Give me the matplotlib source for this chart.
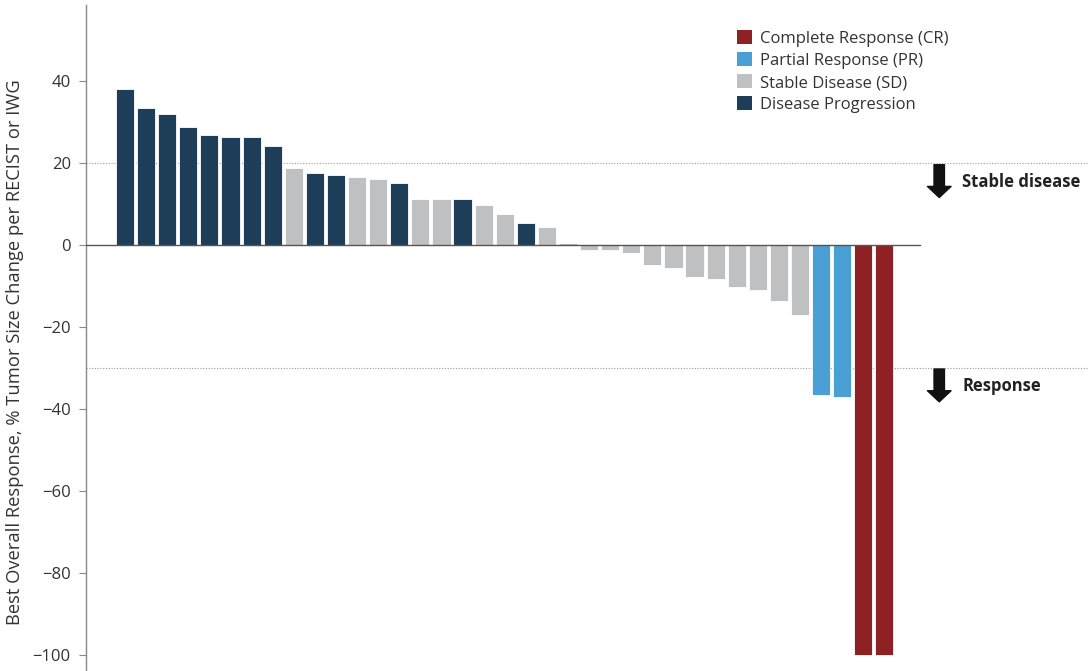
import matplotlib.pyplot as plt
from matplotlib.patches import Patch

plt.rcParams['font.family'] = ['Open Sans', 'DejaVu Sans']

# Best overall response per patient (% change), sorted as in the waterfall
values = [38, 33.2, 31.8, 28.8, 26.7, 26.2, 26.2, 24.0,
          18.6, 17.4, 17.1, 16.6, 15.9, 15.0, 11.2, 11.2, 11.2, 9.7, 7.6, 5.4, 4.3,
          0.5, -1.2, -1.4, -1.9, -4.9, -5.7, -7.9, -8.4, -10.4, -11.1, -13.6, -17.1,
          -36.7, -37.2, -100, -100]
response = ['PD', 'PD', 'PD', 'PD', 'PD', 'PD', 'PD', 'PD',
            'SD', 'PD', 'PD', 'SD', 'SD', 'PD', 'SD', 'SD', 'PD', 'SD', 'SD', 'PD', 'SD',
            'SD', 'SD', 'SD', 'SD', 'SD', 'SD', 'SD', 'SD', 'SD', 'SD', 'SD', 'SD',
            'PR', 'PR', 'CR', 'CR']

colors = {'CR': '#8e2124', 'PR': '#4a9fd5', 'SD': '#bfc0c2', 'PD': '#1e3d58'}
labels = {'CR': 'Complete Response (CR)', 'PR': 'Partial Response (PR)',
          'SD': 'Stable Disease (SD)', 'PD': 'Disease Progression'}

fig = plt.figure(figsize=(10.89, 6.71), dpi=100)
ax = fig.add_axes([0.079, 0.0, 0.921, 0.993])

x = list(range(len(values)))
ax.bar(x, values, width=0.86, color=[colors[r] for r in response],
       edgecolor='white', linewidth=0.6, zorder=3)

ax.set_xlim(-1.85, 45.7)
ax.set_ylim(-103.9, 58.5)

# zero line and thresholds
ax.plot([-1.85, 37.7], [0, 0], color='#555555', linewidth=1.0, zorder=4)
ax.axhline(20, color='#999999', linestyle=(0, (1, 1.5)), linewidth=0.8, zorder=2)
ax.axhline(-30, color='#999999', linestyle=(0, (1, 1.5)), linewidth=0.8, zorder=2)

# arrows with annotations
for y0, y1, txt, ty in [(19.5, 11.5, 'Stable disease', 15.3), (-30.3, -38.3, 'Response', -34.5)]:
    ax.annotate('', xy=(38.6, y1), xytext=(38.6, y0),
                arrowprops=dict(arrowstyle='simple,head_width=1.7,head_length=0.8,tail_width=0.75',
                                color='#111111', shrinkA=0, shrinkB=0))
    ax.text(39.7, ty, txt, fontsize=12, fontweight='bold', color='#222222',
            va='center', ha='left')

ax.set_yticks([40, 20, 0, -20, -40, -60, -80, -100])
ax.tick_params(axis='y', direction='out', length=5, color='#888888',
               labelsize=12, labelcolor='#333333', pad=6)
ax.set_xticks([])
for s in ['top', 'right', 'bottom']:
    ax.spines[s].set_visible(False)
ax.spines['left'].set_color('#888888')
ax.spines['left'].set_linewidth(1.0)

ax.set_ylabel('Best Overall Response, % Tumor Size Change per RECIST or IWG',
              fontsize=13.2, color='#333333')
ax.yaxis.set_label_coords(-0.062, 0.478)

handles = [Patch(facecolor=colors[k], label=labels[k]) for k in ['CR', 'PR', 'SD', 'PD']]
ax.legend(handles=handles, loc='upper left', bbox_to_anchor=(0.634, 0.984),
          frameon=False, fontsize=12, handlelength=0.9, handleheight=0.9,
          handletextpad=0.5, labelspacing=0.32, labelcolor='#333333')

fig.savefig('out.png', dpi=100)
